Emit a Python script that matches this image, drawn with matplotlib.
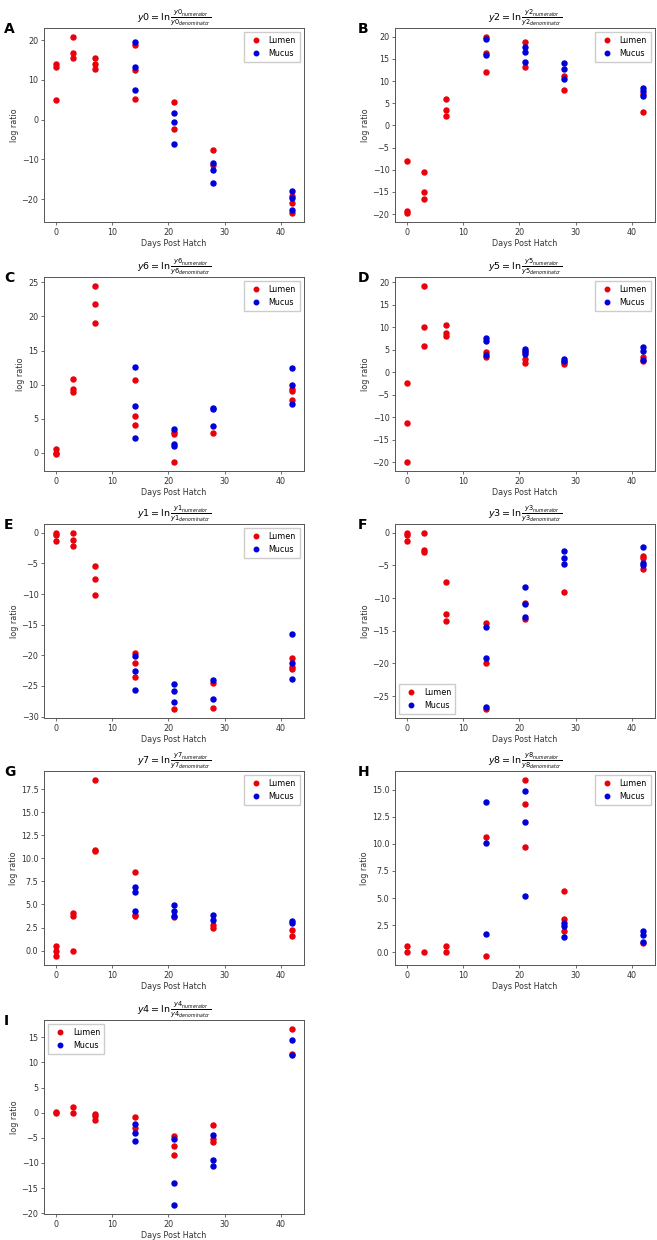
import matplotlib
matplotlib.use("Agg")
import matplotlib.pyplot as plt
from matplotlib.ticker import MultipleLocator

# ------------------------------ DATA ------------------------------
# y0
y0_lumen_days = [0, 0, 0, 3, 3, 3, 7, 7, 7, 14, 14, 14, 21, 21, 28, 28, 42, 42, 42]
y0_lumen = [13.9, 13.2, 5.0, 20.8, 16.7, 15.6, 15.5, 14.0, 12.7, 18.7, 12.5, 5.1,
            4.5, -2.3, -7.7, -11.5, -19.2, -20.9, -23.5]
y0_mucus_days = [14, 14, 14, 21, 21, 21, 28, 28, 28, 42, 42, 42]
y0_mucus = [19.6, 13.2, 7.4, 1.6, -0.5, -6.2, -10.8, -12.6, -16.0, -18.0, -19.8, -22.8]

# y2
y2_lumen_days = [0, 0, 0, 3, 3, 3, 7, 7, 7, 14, 14, 14, 21, 21, 28, 28, 42, 42]
y2_lumen = [-8.0, -19.4, -19.8, -10.4, -15.1, -16.5, 6.0, 3.4, 2.2, 20.0, 16.4, 12.0,
            18.8, 13.3, 11.1, 8.0, 7.2, 3.0]
y2_mucus_days = [14, 14, 21, 21, 21, 28, 28, 28, 42, 42, 42]
y2_mucus = [19.6, 15.8, 17.8, 16.5, 14.4, 14.2, 12.7, 10.4, 8.5, 7.7, 6.6]

# y6
y6_lumen_days = [0, 0, 0, 3, 3, 3, 7, 7, 7, 14, 14, 14, 21, 21, 21, 28, 42, 42, 42]
y6_lumen = [0.6, -0.1, -0.2, 10.8, 9.3, 8.9, 24.5, 21.8, 19.0, 10.7, 5.4, 4.1,
            3.0, 2.8, -1.4, 2.9, 9.3, 9.0, 7.7]
y6_mucus_days = [14, 14, 14, 21, 21, 21, 28, 28, 28, 42, 42, 42]
y6_mucus = [12.6, 6.8, 2.2, 3.5, 1.3, 1.0, 6.6, 6.4, 3.9, 12.4, 9.9, 7.2]

# y5
y5_lumen_days = [0, 0, 0, 3, 3, 3, 7, 7, 7, 14, 14, 21, 21, 21, 28, 28, 42, 42]
y5_lumen = [-2.4, -11.2, -20.0, 19.2, 10.0, 5.9, 10.5, 8.7, 8.0, 4.6, 3.3,
            4.5, 3.0, 2.0, 2.2, 1.8, 3.3, 2.6]
y5_mucus_days = [14, 14, 14, 21, 21, 21, 28, 28, 42, 42, 42]
y5_mucus = [7.6, 7.0, 3.8, 5.1, 4.8, 4.0, 3.0, 2.6, 5.6, 4.7, 2.8]

# y1
y1_lumen_days = [0, 0, 0, 3, 3, 3, 7, 7, 7, 14, 14, 14, 21, 28, 28, 42, 42, 42]
y1_lumen = [-0.1, -0.4, -1.3, 0.0, -1.2, -2.1, -5.4, -7.6, -10.1, -19.7, -21.3, -23.5,
            -28.8, -24.5, -28.6, -20.4, -21.9, -22.2]
y1_mucus_days = [14, 14, 14, 21, 21, 21, 28, 28, 42, 42, 42]
y1_mucus = [-20.1, -22.6, -25.7, -24.7, -25.8, -27.7, -24.0, -27.2, -16.5, -21.2, -23.9]

# y3
y3_lumen_days = [0, 0, 0, 3, 3, 3, 7, 7, 7, 14, 14, 14, 21, 21, 28, 42, 42, 42]
y3_lumen = [-0.1, -0.4, -1.2, 0.0, -2.6, -2.9, -7.5, -12.5, -13.5, -13.8, -20.0, -27.0,
            -10.8, -13.2, -9.1, -3.5, -3.9, -5.6]
y3_mucus_days = [14, 14, 14, 21, 21, 21, 28, 28, 28, 42, 42, 42]
y3_mucus = [-14.4, -19.2, -26.7, -8.3, -10.9, -12.9, -2.8, -3.8, -4.8, -2.1, -4.6, -4.9]

# y7
y7_lumen_days = [0, 0, 0, 3, 3, 3, 7, 7, 7, 14, 14, 14, 21, 28, 28, 42, 42]
y7_lumen = [0.5, 0.0, -0.6, 4.1, 3.7, 0.0, 18.5, 10.9, 10.8, 8.5, 3.9, 3.7,
            3.6, 2.8, 2.5, 2.2, 1.6]
y7_mucus_days = [14, 14, 14, 21, 21, 21, 28, 28, 42, 42]
y7_mucus = [6.9, 6.4, 4.3, 4.9, 4.3, 3.8, 3.9, 3.3, 3.2, 3.0]

# y8
y8_lumen_days = [0, 0, 3, 7, 7, 14, 14, 21, 21, 21, 28, 28, 28, 42]
y8_lumen = [0.55, 0.0, 0.0, 0.6, 0.0, 10.6, -0.35, 15.9, 13.7, 9.7, 5.7, 3.1, 2.0, 0.9]
y8_mucus_days = [14, 14, 14, 21, 21, 21, 28, 28, 28, 42, 42, 42]
y8_mucus = [13.9, 10.1, 1.7, 14.9, 12.0, 5.2, 2.7, 2.4, 1.4, 2.0, 1.6, 1.0]

# y4
y4_lumen_days = [0, 0, 3, 3, 7, 7, 7, 14, 14, 21, 21, 21, 28, 28, 28, 42, 42]
y4_lumen = [0.2, 0.0, 1.1, 0.0, -0.2, -0.6, -1.4, -0.8, -3.0, -4.6, -6.6, -8.5,
            -2.5, -5.3, -5.9, 16.7, 11.7]
y4_mucus_days = [14, 14, 14, 21, 21, 21, 28, 28, 28, 42, 42]
y4_mucus = [-2.2, -4.0, -5.6, -5.3, -14.0, -18.4, -4.4, -9.5, -10.7, 14.5, 11.4]

panel_letters = ["A", "B", "C", "D", "E", "F", "G", "H", "I"]
panel_names = ["y0", "y2", "y6", "y5", "y1", "y3", "y7", "y8", "y4"]
legend_locs = ["upper right"] * 5 + ["lower left", "upper right", "upper right", "upper left"]

panel_data = [
    (y0_lumen_days, y0_lumen, y0_mucus_days, y0_mucus),
    (y2_lumen_days, y2_lumen, y2_mucus_days, y2_mucus),
    (y6_lumen_days, y6_lumen, y6_mucus_days, y6_mucus),
    (y5_lumen_days, y5_lumen, y5_mucus_days, y5_mucus),
    (y1_lumen_days, y1_lumen, y1_mucus_days, y1_mucus),
    (y3_lumen_days, y3_lumen, y3_mucus_days, y3_mucus),
    (y7_lumen_days, y7_lumen, y7_mucus_days, y7_mucus),
    (y8_lumen_days, y8_lumen, y8_mucus_days, y8_mucus),
    (y4_lumen_days, y4_lumen, y4_mucus_days, y4_mucus),
]

# ------------------------------ LAYOUT ------------------------------
W, H = 657, 1240
fig = plt.figure(figsize=(W / 100, H / 100), dpi=100)

col_left = [44, 395]
col_width = 260
row_top = [28, 277, 524, 771, 1020]
ax_height = 194

FS = 5.8

for i, name in enumerate(panel_names):
    r, c = divmod(i, 2)
    x0 = col_left[c]
    y0 = row_top[r]
    ax = fig.add_axes([x0 / W, 1 - (y0 + ax_height) / H, col_width / W, ax_height / H])

    ld, lv, md, mv = panel_data[i]
    ax.plot(ld, lv, 'o', color='#e8000b', markersize=3.6, label='Lumen')
    ax.plot(md, mv, 'o', color='#0000d8', markersize=3.6, label='Mucus')

    ax.set_xlim(-2.1, 44.1)
    ax.set_xticks([0, 10, 20, 30, 40])
    if name in ("y7", "y8"):
        ax.yaxis.set_major_locator(MultipleLocator(2.5))
    ax.tick_params(labelsize=FS, length=2, width=0.5, colors='#333333', pad=2)
    for sp in ax.spines.values():
        sp.set_color('#555555')
        sp.set_linewidth(0.7)
    ax.set_xlabel('Days Post Hatch', fontsize=FS, color='#333333', labelpad=2)
    ax.set_ylabel('log ratio', fontsize=FS, color='#333333', labelpad=2)
    title = r"$%s = \ln\frac{%s_{numerator}}{%s_{denominator}}$" % (name, name, name)
    ax.set_title(title, fontsize=FS + 1.0, pad=2)
    ax.legend(loc=legend_locs[i], fontsize=FS, markerscale=0.9, handletextpad=0.6,
              borderpad=0.5, framealpha=1.0, edgecolor='#cccccc', fancybox=False)

    fig.text((x0 - 40) / W if c == 0 else (x0 - 37) / W, 1 - (y0 - 6) / H,
             panel_letters[i], fontsize=10, fontweight='bold', va='top', ha='left')

fig.savefig("out.png", dpi=100)
